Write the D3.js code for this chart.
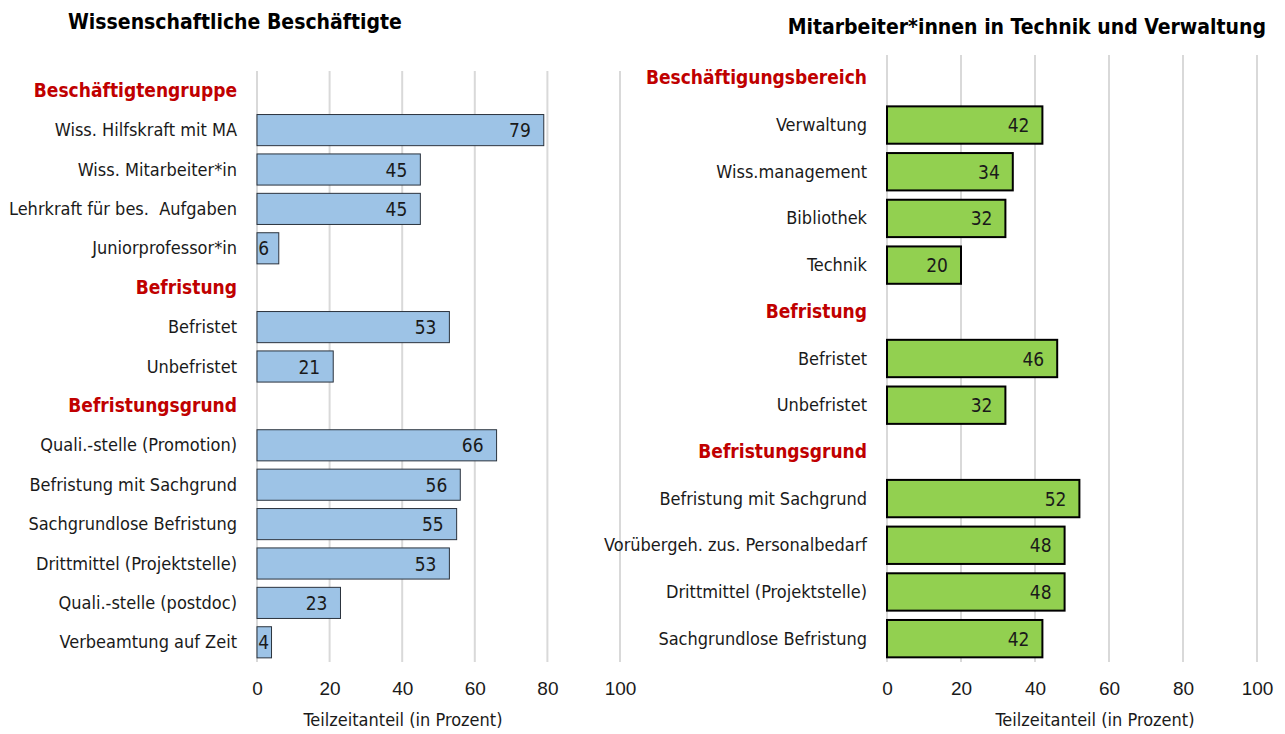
<!DOCTYPE html>
<html>
<head>
<meta charset="utf-8">
<script src="https://cdn.jsdelivr.net/npm/d3@7"></script>
<style>
  body { margin: 0; background: #fff; }
  svg { font-family: "Liberation Sans Narrow", "DejaVu Sans Condensed", "Roboto Condensed", Roboto, sans-serif; font-stretch: condensed; }
  text { white-space: pre; }
</style>
</head>
<body>
<svg id="chart" width="1285" height="734"></svg>
<script>
// values, header rows have null
var leftCategories = ["Beschäftigtengruppe", "Wiss. Hilfskraft mit MA", "Wiss. Mitarbeiter*in", "Lehrkraft für bes.  Aufgaben", "Juniorprofessor*in",
    "Befristung", "Befristet", "Unbefristet",
    "Befristungsgrund", "Quali.-stelle (Promotion)", "Befristung mit Sachgrund", "Sachgrundlose Befristung", "Drittmittel (Projektstelle)", "Quali.-stelle (postdoc)", "Verbeamtung auf Zeit"];
var leftValues = [null, 79, 45, 45, 6, null, 53, 21, null, 66, 56, 55, 53, 23, 4];

var rightCategories = ["Beschäftigungsbereich", "Verwaltung", "Wiss.management", "Bibliothek", "Technik",
    "Befristung", "Befristet", "Unbefristet",
    "Befristungsgrund", "Befristung mit Sachgrund", "Vorübergeh. zus. Personalbedarf", "Drittmittel (Projektstelle)", "Sachgrundlose Befristung"];
var rightValues = [null, 42, 34, 32, 20, null, 46, 32, null, 52, 48, 48, 42];

var tickValues = [0, 20, 40, 60, 80, 100];
var axisTitle = "Teilzeitanteil (in Prozent)";

var svg = d3.select("#chart");

function panel(opts) {
    var rows = opts.categories.map(function(c, i) { return { label: c, value: opts.values[i], i: i }; });

    var x = d3.scaleLinear().domain([0, 100]).range([opts.x0, opts.x1]);
    var y = d3.scaleBand().domain(rows.map(function(d) { return d.i; }))
        .range([opts.y0, opts.y1]).paddingInner(opts.pad).paddingOuter(opts.pad / 2);

    var g = svg.append("g");

    // gridlines
    g.selectAll("line.grid").data(tickValues).enter().append("line")
        .attr("x1", x).attr("x2", x)
        .attr("y1", opts.y0).attr("y2", opts.y1)
        .attr("stroke", "#d9d9d9").attr("stroke-width", 2);

    // bars
    var bars = rows.filter(function(d) { return d.value != null; });
    g.selectAll("rect").data(bars).enter().append("rect")
        .attr("x", x(0))
        .attr("y", function(d) { return y(d.i); })
        .attr("width", function(d) { return x(d.value) - x(0); })
        .attr("height", y.bandwidth())
        .attr("fill", opts.fill)
        .attr("stroke", opts.stroke)
        .attr("stroke-width", opts.strokeWidth);

    g.selectAll("text.val").data(bars).enter().append("text")
        .attr("class", "val")
        .attr("x", function(d) { return Math.max(x(d.value) - 13, x(0) + 12); })
        .attr("y", function(d) { return y(d.i) + y.bandwidth() / 2 + 7; })
        .attr("text-anchor", "end")
        .attr("font-size", 19)
        .attr("fill", "#1a1a1a")
        .text(function(d) { return d.value; });

    // category labels and group headers
    g.selectAll("text.cat").data(rows).enter().append("text")
        .attr("class", "cat")
        .attr("x", opts.labelX)
        .attr("y", function(d) { return y(d.i) + y.bandwidth() / 2 + 6; })
        .attr("text-anchor", "end")
        .attr("font-size", function(d) { return d.value == null ? 19 : 18; })
        .attr("font-weight", function(d) { return d.value == null ? "bold" : "normal"; })
        .attr("fill", function(d) { return d.value == null ? "#c00000" : "#1a1a1a"; })
        .text(function(d) { return d.label; });

    // x axis
    var axis = g.append("g")
        .attr("transform", "translate(0," + (opts.y1 + 14) + ")")
        .call(d3.axisBottom(x).tickValues(tickValues).tickSize(0).tickPadding(6));
    axis.select(".domain").remove();
    axis.selectAll("text").attr("font-size", 19).attr("fill", "#1a1a1a")
        .style("font-family", "inherit");

    g.append("text")
        .attr("x", opts.titleX).attr("y", opts.y1 + 64)
        .attr("text-anchor", "middle")
        .attr("font-size", 18).attr("fill", "#1a1a1a")
        .text(axisTitle);

    svg.append("text")
        .attr("x", opts.headX).attr("y", opts.headY)
        .attr("text-anchor", opts.headAnchor)
        .attr("font-size", 21).attr("font-weight", "bold").attr("fill", "#000")
        .text(opts.heading);
}

panel({
    categories: leftCategories, values: leftValues,
    x0: 257, x1: 620, y0: 71, y1: 662, pad: 0.21,
    fill: "#9dc3e6", stroke: "#2b333d", strokeWidth: 1,
    labelX: 237, titleX: 403,
    heading: "Wissenschaftliche Beschäftigte", headX: 68, headY: 29, headAnchor: "start"
});

panel({
    categories: rightCategories, values: rightValues,
    x0: 887, x1: 1257, y0: 55, y1: 662, pad: 0.2,
    fill: "#92d050", stroke: "#000", strokeWidth: 2,
    labelX: 867, titleX: 1095,
    heading: "Mitarbeiter*innen in Technik und Verwaltung", headX: 1266, headY: 34, headAnchor: "end"
});
</script>
</body>
</html>
